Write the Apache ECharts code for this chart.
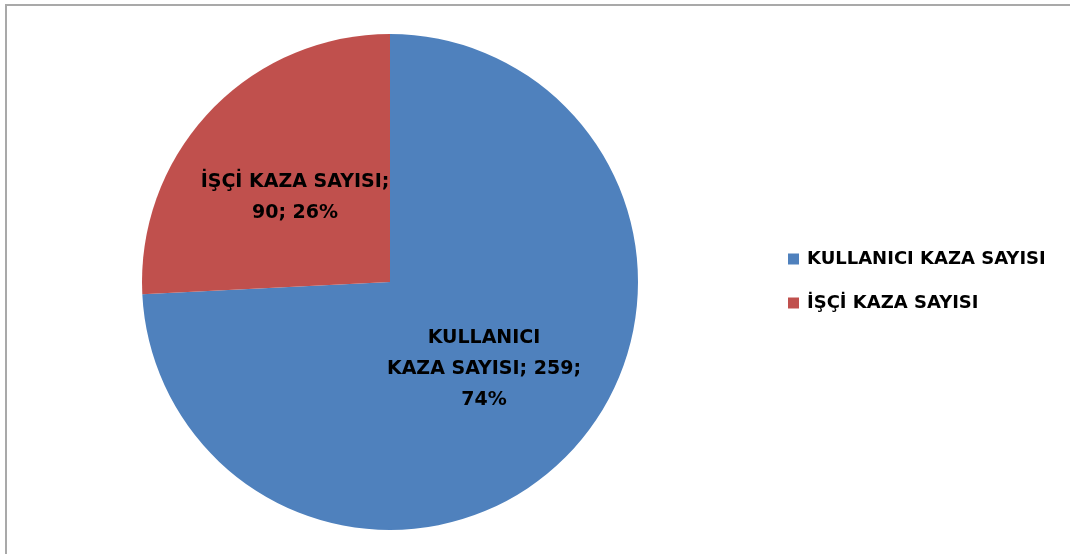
<!DOCTYPE html>
<html>
<head>
<meta charset="utf-8">
<script src="https://cdn.jsdelivr.net/npm/echarts@6/dist/echarts.min.js"></script>
<style>
  html, body { margin: 0; padding: 0; background: #fff; }
  #chart { width: 1070px; height: 554px; }
</style>
</head>
<body>
<div id="chart"></div>
<script>
const categories = ['KULLANICI KAZA SAYISI', 'İŞÇİ KAZA SAYISI'];
const values = [259, 90];
const colors = ['#4F81BD', '#C0504D'];

const chart = echarts.init(document.getElementById('chart'));

// Excel style wrapped labels
function labelText(p) {
  if (p.dataIndex === 0) {
    return p.name.replace(' ', '\n') + '; ' + p.value + ';\n' + p.percent + '%';
  }
  return p.name + ';\n' + p.value + '; ' + p.percent + '%';
}

const option = {
  animation: false,
  backgroundColor: '#fff',
  graphic: [{
    type: 'rect',
    shape: { x: 6, y: 5, width: 1100, height: 600 },
    style: { fill: 'none', stroke: '#a9a9a9', lineWidth: 2 }
  }],
  legend: {
    orient: 'vertical',
    left: 788,
    top: 250,
    padding: 0,
    itemWidth: 11,
    itemHeight: 11,
    itemGap: 26,
    icon: 'rect',
    textStyle: { fontFamily: 'DejaVu Sans', fontWeight: 'bold', fontSize: 18, color: '#000', padding: [0, 0, 0, 3] },
    data: categories
  },
  series: [{
    type: 'pie',
    center: [390, 282],
    radius: 248,
    startAngle: 90,
    clockwise: true,
    percentPrecision: 0,
    label: {
      position: 'inside',
      formatter: labelText,
      fontFamily: 'DejaVu Sans',
      fontWeight: 'bold',
      fontSize: 19,
      lineHeight: 31,
      color: '#000'
    },
    labelLine: { show: false },
    itemStyle: { borderWidth: 0 },
    emphasis: { disabled: true },
    data: categories.map((c, i) => ({
      name: c,
      value: values[i],
      itemStyle: { color: colors[i] },
      label: i === 1 ? { offset: [-3, 3] } : { offset: [2, 0] }
    }))
  }]
};

chart.setOption(option);
</script>
</body>
</html>
